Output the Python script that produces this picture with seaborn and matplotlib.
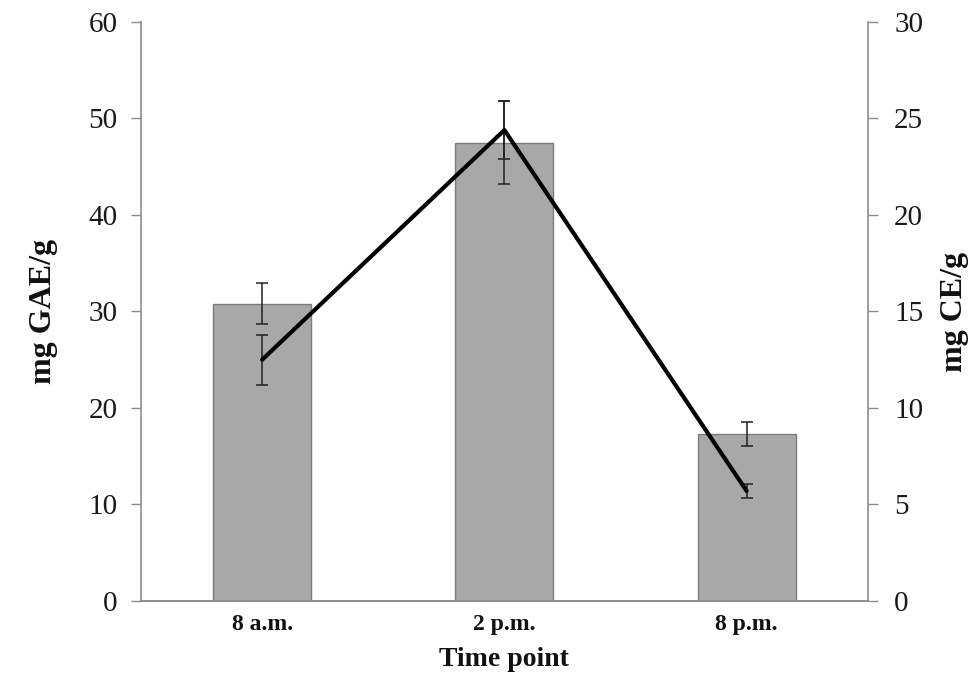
import numpy as np
import matplotlib
matplotlib.use('Agg')
import matplotlib.pyplot as plt
import seaborn as sns

# values
times = ['8 a.m.', '2 p.m.', '8 p.m.']
gae = [30.8, 47.5, 17.3]          # bars, mg GAE/g (left axis)
gae_err = [2.1, 4.3, 1.2]
ce = [12.5, 24.4, 5.7]            # line, mg CE/g (right axis)
ce_err = [1.3, 1.5, 0.35]

sns.set_style('white')
plt.rcParams['font.family'] = ['Liberation Serif', 'DejaVu Serif']

fig = plt.figure(figsize=(9.75, 6.86), dpi=100)
ax = fig.add_axes([0.1446, 0.1239, 0.7454, 0.8441])

sns.barplot(x=times, y=gae, color='#a8a8a8', width=0.405, edgecolor='#7c7c7c',
            linewidth=1, saturation=1, ax=ax)
pos = np.arange(len(times))
ax.errorbar(pos, gae, yerr=gae_err, fmt='none', ecolor='#222222', elinewidth=1.1,
            capsize=4, capthick=1.1)

ax2 = ax.twinx()
ax2.errorbar(pos, ce, yerr=ce_err, color='black', lw=3, ecolor='#222222',
             elinewidth=1.1, capsize=4, capthick=1.1)

ax.set_xlim(-0.5, 2.5)
ax.set_ylim(0, 60)
ax2.set_ylim(0, 30)
ax.set_yticks(range(0, 61, 10))
ax2.set_yticks(range(0, 31, 5))

for a in (ax, ax2):
    for s in a.spines.values():
        s.set_color('#8c8c8c')
        s.set_linewidth(1.2)
    a.spines['top'].set_visible(False)
ax.spines['right'].set_visible(False)
ax2.spines['left'].set_visible(False)

ax.tick_params(axis='y', direction='out', length=7, width=1, color='#8c8c8c',
               labelsize=21, labelcolor='#1a1a1a', pad=10, left=True)
ax2.tick_params(axis='y', direction='out', length=7, width=1, color='#8c8c8c',
                labelsize=21, labelcolor='#1a1a1a', pad=12, right=True)
ax.set_xticks([0.5, 1.5], minor=True)
ax.tick_params(axis='x', which='major', length=0, labelsize=17, labelcolor='#111111', pad=9)
ax.tick_params(axis='x', which='minor', direction='out', length=6, width=1, color='#8c8c8c')
for lab in ax.get_xticklabels():
    lab.set_fontweight('bold')

ax.set_ylabel('mg GAE/g', fontsize=23, fontweight='bold', color='#111111', labelpad=22)
ax2.set_ylabel('mg CE/g', fontsize=23, fontweight='bold', color='#111111', labelpad=12)
ax.set_xlabel('Time point', fontsize=20, fontweight='bold', color='#111111', labelpad=9)

fig.savefig('out.png', dpi=100, facecolor='white')
